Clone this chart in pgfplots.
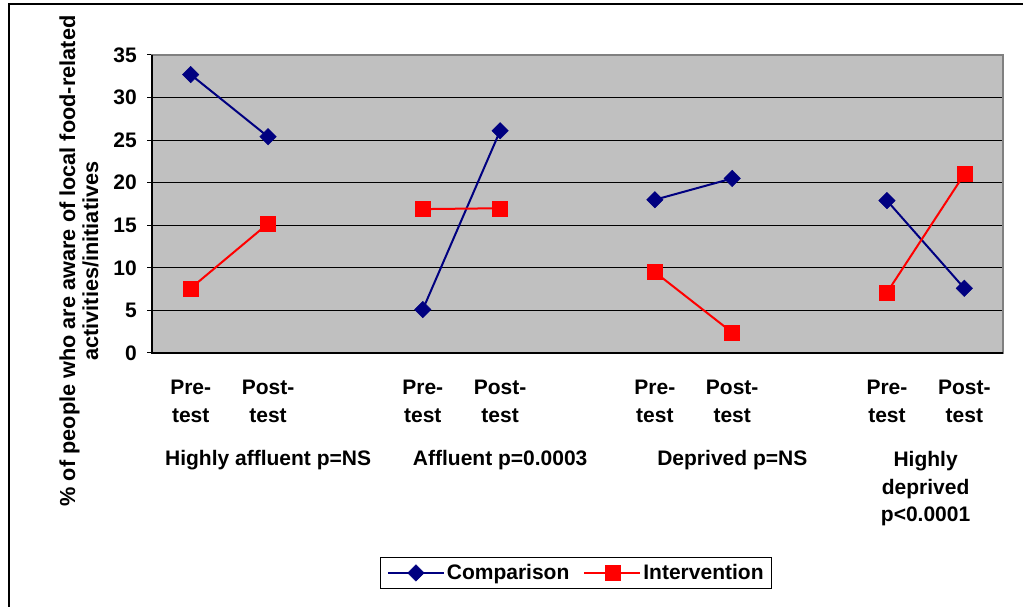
\documentclass[border=0pt]{standalone}
\usepackage{fontspec}
\setmainfont{Liberation Sans}
\usepackage{pgfplots}
\pgfplotsset{compat=1.18}
\definecolor{bggray}{HTML}{C0C0C0}
\definecolor{navy}{HTML}{000080}
\definecolor{edgegray}{HTML}{808080}
\newcommand{\lf}{\bfseries\fontsize{21}{27.5}\selectfont}
\begin{document}
\begin{tikzpicture}[x=1pt,y=1pt]
\useasboundingbox (0,0) rectangle (1023,607);
\draw[black, line width=2pt] (8.5,0) -- (8.5,603) -- (1023,603);
\begin{axis}[
  at={(152pt,254pt)}, anchor=south west,
  scale only axis, width=851pt, height=298pt,
  xmin=-0.5, xmax=10.5, ymin=0, ymax=35,
  ytick={0,5,10,15,20,25,30,35},
  xtick={0,1,3,4,6,7,9,10},
  xticklabels={Pre-\\test,Post-\\test,Pre-\\test,Post-\\test,Pre-\\test,Post-\\test,Pre-\\test,Post-\\test},
  axis background/.style={fill=bggray},
  ymajorgrids, grid style={black, line width=0.8pt},
  major tick length=5pt, tick align=outside,
  xtick style={draw=none}, ytick style={black, line width=1pt},
  ytick pos=left, xtick pos=bottom,
  axis line style={draw=edgegray, line width=2pt},
  unbounded coords=jump,
  /pgf/number format/assume math mode=true,
  ticklabel style={font=\lf},
  xticklabel style={align=center, anchor=north, inner sep=0pt, yshift=-22pt},
  yticklabel style={anchor=east, inner sep=0pt, xshift=-10pt},
  legend style={at={(0.4985,-0.738)}, anchor=center, draw=black, line width=0.8pt,
    font=\lf, /tikz/every even column/.append style={column sep=12pt},
    inner xsep=6pt, inner ysep=5pt},
  legend columns=2,
  legend image code/.code={\draw[mark repeat=2,mark phase=2] plot coordinates {(0pt,0pt) (28pt,0pt) (56pt,0pt)};},
  clip=false,
]
\addplot[navy, line width=2pt, mark=square*, mark size=5.8pt,
  mark options={rotate=45, fill=navy, draw=navy, line width=0.5pt}]
  coordinates {(0,32.7)(1,25.4)(2,nan)(3,5.1)(4,26.1)(5,nan)(6,18.0)(7,20.5)(8,nan)(9,17.9)(10,7.6)};
\addlegendentry{Comparison}
\addplot[red, line width=2pt, mark=square*, mark size=7.5pt,
  mark options={fill=red, draw=red, line width=0.5pt}]
  coordinates {(0,7.6)(1,15.2)(2,nan)(3,16.9)(4,17.0)(5,nan)(6,9.5)(7,2.4)(8,nan)(9,7.1)(10,21.0)};
\addlegendentry{Intervention}
\draw[black, line width=1.5pt] (rel axis cs:0,1) -- (rel axis cs:0,0) -- (rel axis cs:1,0);
\end{axis}
\node[font=\lf, anchor=base] at (268.1,141) {Highly affluent p=NS};
\node[font=\lf, anchor=base] at (500.2,141) {Affluent p=0.0003};
\node[font=\lf, anchor=base] at (732.3,141) {Deprived p=NS};
\node[font=\lf, anchor=base] at (925.6,140) {Highly};
\node[font=\lf, anchor=base] at (925.6,112.5) {deprived};
\node[font=\lf, anchor=base] at (925.6,85) {p<0.0001};
\node[font=\bfseries\fontsize{21.7}{23}\selectfont, rotate=90, align=center] at (79,346)
  {\% of people who are aware of local food-related\\activities/initiatives};
\end{tikzpicture}
\end{document}
